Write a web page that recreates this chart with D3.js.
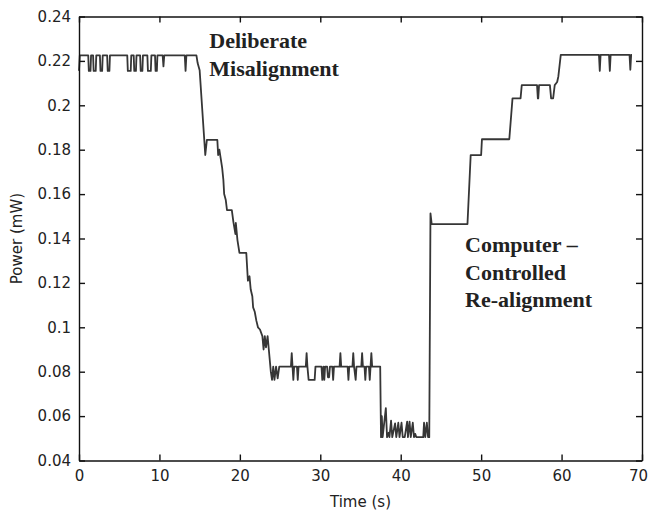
<!DOCTYPE html>
<html>
<head>
<meta charset="utf-8">
<script src="https://cdn.jsdelivr.net/npm/d3@7"></script>
<style>
  body { margin: 0; background: #fff; }
  svg { display: block; }
  .axis text { font-family: "DejaVu Sans", sans-serif; font-size: 15px; fill: #222; }
  .axis path, .axis line { stroke: #111; stroke-width: 1.4; }
  .note { font-family: "Liberation Serif", "Times New Roman", serif; font-weight: bold; font-size: 22px; fill: #222; }
</style>
</head>
<body>
<svg width="648" height="513"></svg>
<script>
// measured optical power while the beam is misaligned and then realigned
const trace = [
  [0.00, 0.2155], [0.10, 0.2225],
  [1.15, 0.2225], [1.22, 0.2155], [1.43, 0.2155], [1.50, 0.2225],
  [1.75, 0.2225], [1.82, 0.2155], [2.08, 0.2155], [2.15, 0.2225],
  [2.60, 0.2225], [2.67, 0.2155], [2.88, 0.2155], [2.95, 0.2225],
  [3.50, 0.2225], [3.57, 0.2155], [3.78, 0.2155], [3.85, 0.2225],
  [6.00, 0.2225], [6.07, 0.2155], [6.43, 0.2155], [6.50, 0.2225],
  [6.80, 0.2225], [6.87, 0.2155], [7.08, 0.2155], [7.15, 0.2225],
  [7.60, 0.2225], [7.67, 0.2155], [7.88, 0.2155], [7.95, 0.2225],
  [8.50, 0.2225], [8.57, 0.2155], [8.93, 0.2155], [9.00, 0.2225],
  [9.45, 0.2225], [9.52, 0.2155], [9.68, 0.2155], [9.75, 0.2225],
  [10.40, 0.2225], [10.50, 0.2175], [10.60, 0.2225],
  [13.15, 0.2225], [13.25, 0.2155], [13.35, 0.2225],
  [14.60, 0.2225], [14.75, 0.2190], [15.00, 0.2158],
  [15.70, 0.1776], [15.90, 0.1844], [17.20, 0.1844], [17.30, 0.1776], [17.45, 0.1800],
  [17.80, 0.1718], [17.95, 0.1664], [18.05, 0.1600], [18.25, 0.1573], [18.40, 0.1528],
  [19.00, 0.1528], [19.20, 0.1474], [19.45, 0.1420], [19.50, 0.1470], [19.70, 0.1393],
  [19.95, 0.1335], [20.80, 0.1335], [21.00, 0.1210], [21.20, 0.1230], [21.35, 0.1170],
  [21.55, 0.1140], [21.65, 0.1090], [21.85, 0.1070], [22.05, 0.1030], [22.25, 0.1000],
  [22.50, 0.0990], [22.80, 0.0960], [22.95, 0.0900], [23.10, 0.0960], [23.25, 0.0910],
  [23.45, 0.0960], [23.60, 0.0900], [23.85, 0.0800], [24.00, 0.0763], [24.15, 0.0823],
  [24.30, 0.0763], [24.50, 0.0823], [24.70, 0.0770], [24.90, 0.0823],
  [26.35, 0.0823], [26.45, 0.0884], [26.55, 0.0823], [26.65, 0.0763], [26.75, 0.0823],
  [27.10, 0.0823], [27.20, 0.0763], [27.30, 0.0823],
  [28.20, 0.0823], [28.30, 0.0884], [28.40, 0.0823], [28.55, 0.0763], [29.30, 0.0763], [29.40, 0.0823],
  [30.15, 0.0823], [30.25, 0.0763], [30.40, 0.0823], [30.50, 0.0763], [30.60, 0.0823],
  [30.85, 0.0823], [30.95, 0.0775], [31.10, 0.0775], [31.20, 0.0823],
  [31.50, 0.0823], [31.60, 0.0763], [31.70, 0.0823],
  [32.40, 0.0823], [32.50, 0.0884], [32.60, 0.0823],
  [33.40, 0.0823], [33.50, 0.0763], [33.60, 0.0823],
  [34.00, 0.0823], [34.10, 0.0884], [34.20, 0.0823], [34.40, 0.0763], [34.50, 0.0823],
  [35.10, 0.0823], [35.20, 0.0884], [35.30, 0.0823],
  [35.50, 0.0823], [35.60, 0.0763], [35.70, 0.0823],
  [36.05, 0.0823], [36.15, 0.0763], [36.25, 0.0823], [36.35, 0.0884], [36.45, 0.0823],
  [37.45, 0.0823],
  [37.55, 0.0505], [37.65, 0.0600], [37.75, 0.0505], [38.15, 0.0636], [38.30, 0.0505],
  [38.50, 0.0525], [38.60, 0.0505], [38.80, 0.0580], [38.95, 0.0505], [39.30, 0.0567],
  [39.45, 0.0505], [39.70, 0.0570], [39.85, 0.0505], [40.10, 0.0570], [40.25, 0.0505],
  [40.50, 0.0505], [40.80, 0.0575], [40.90, 0.0505], [41.10, 0.0575], [41.25, 0.0505],
  [41.50, 0.0570], [41.65, 0.0505], [41.80, 0.0520], [41.95, 0.0505], [42.80, 0.0505],
  [42.90, 0.0570], [43.05, 0.0505], [43.25, 0.0570], [43.40, 0.0505], [43.55, 0.0505],
  [43.70, 0.1513], [43.85, 0.1465],
  [48.30, 0.1465], [48.70, 0.1776], [50.00, 0.1776], [50.10, 0.1847], [53.50, 0.1847],
  [53.90, 0.2031], [54.90, 0.2031], [55.05, 0.2091],
  [56.95, 0.2091], [57.05, 0.2031], [57.10, 0.2031], [57.20, 0.2091],
  [58.55, 0.2091], [58.70, 0.2031], [58.95, 0.2031], [59.15, 0.2091],
  [59.45, 0.2105], [59.60, 0.2130], [59.90, 0.2227],
  [64.65, 0.2227], [64.75, 0.2155], [64.85, 0.2227],
  [65.90, 0.2227], [66.00, 0.2155], [66.10, 0.2227],
  [68.45, 0.2227], [68.55, 0.2160], [68.65, 0.2227], [68.75, 0.2227]
];

const xTicks = [0, 10, 20, 30, 40, 50, 60, 70];
const yTicks = [0.04, 0.06, 0.08, 0.1, 0.12, 0.14, 0.16, 0.18, 0.2, 0.22, 0.24];
const yTickLabels = ["0.04", "0.06", "0.08", "0.1", "0.12", "0.14", "0.16", "0.18", "0.2", "0.22", "0.24"];

// annotation anchors in data units (time, power)
const notes = [
  { t: 16.2, p: 0.2258, lines: ["Deliberate", "Misalignment"] },
  { t: 48.0, p: 0.1339, lines: ["Computer \u2013", "Controlled", "Re-alignment"] }
];

const svg = d3.select("svg"),
    width = +svg.attr("width"),
    height = +svg.attr("height"),
    margin = {top: 16.5, right: 6, bottom: 52.5, left: 79};

const x = d3.scaleLinear()
    .domain([0, 70])
    .range([margin.left, width - margin.right]);

const y = d3.scaleLinear()
    .domain([0.04, 0.24])
    .range([height - margin.bottom, margin.top]);

// data line
svg.append("path")
    .datum(trace)
    .attr("fill", "none")
    .attr("stroke", "#363636")
    .attr("stroke-width", 1.8)
    .attr("stroke-linejoin", "round")
    .attr("d", d3.line().x(d => x(d[0])).y(d => y(d[1])));

// box axes with ticks pointing inward
const xAxis = svg.append("g")
    .attr("class", "axis")
    .attr("transform", "translate(0," + (height - margin.bottom) + ")")
    .call(d3.axisBottom(x).tickValues(xTicks).tickSizeInner(-6).tickSizeOuter(0).tickPadding(10));

// last label sits on the right edge of the window, nudge it in
xAxis.selectAll(".tick text").filter(d => d === 70).attr("dx", -4);

svg.append("g")
    .attr("class", "axis")
    .attr("transform", "translate(" + margin.left + ",0)")
    .call(d3.axisLeft(y).tickValues(yTicks).tickSizeInner(-6).tickSizeOuter(0).tickPadding(8)
        .tickFormat((d, i) => yTickLabels[i]));

svg.append("g")
    .attr("class", "axis")
    .attr("transform", "translate(0," + margin.top + ")")
    .call(d3.axisTop(x).tickValues(xTicks).tickSizeInner(-6).tickSizeOuter(0).tickFormat(""));

svg.append("g")
    .attr("class", "axis")
    .attr("transform", "translate(" + (width - margin.right) + ",0)")
    .call(d3.axisRight(y).tickValues(yTicks).tickSizeInner(-6).tickSizeOuter(0).tickFormat(""));

// axis titles
svg.append("text")
    .attr("x", (x.range()[0] + x.range()[1]) / 2)
    .attr("y", height - 6)
    .attr("text-anchor", "middle")
    .style("font-family", "DejaVu Sans, sans-serif")
    .style("font-size", "15px")
    .attr("fill", "#222")
    .text("Time (s)");

svg.append("text")
    .attr("transform", "translate(22," + ((y.range()[0] + y.range()[1]) / 2) + ") rotate(-90)")
    .attr("text-anchor", "middle")
    .style("font-family", "DejaVu Sans, sans-serif")
    .style("font-size", "15px")
    .attr("fill", "#222")
    .text("Power (mW)");

// annotations
notes.forEach(n => {
    const t = svg.append("text")
        .attr("class", "note")
        .attr("x", x(n.t))
        .attr("y", y(n.p));
    n.lines.forEach((s, i) => {
        t.append("tspan")
            .attr("x", x(n.t))
            .attr("dy", i === 0 ? 0 : 27.5)
            .text(s);
    });
});
</script>
</body>
</html>
